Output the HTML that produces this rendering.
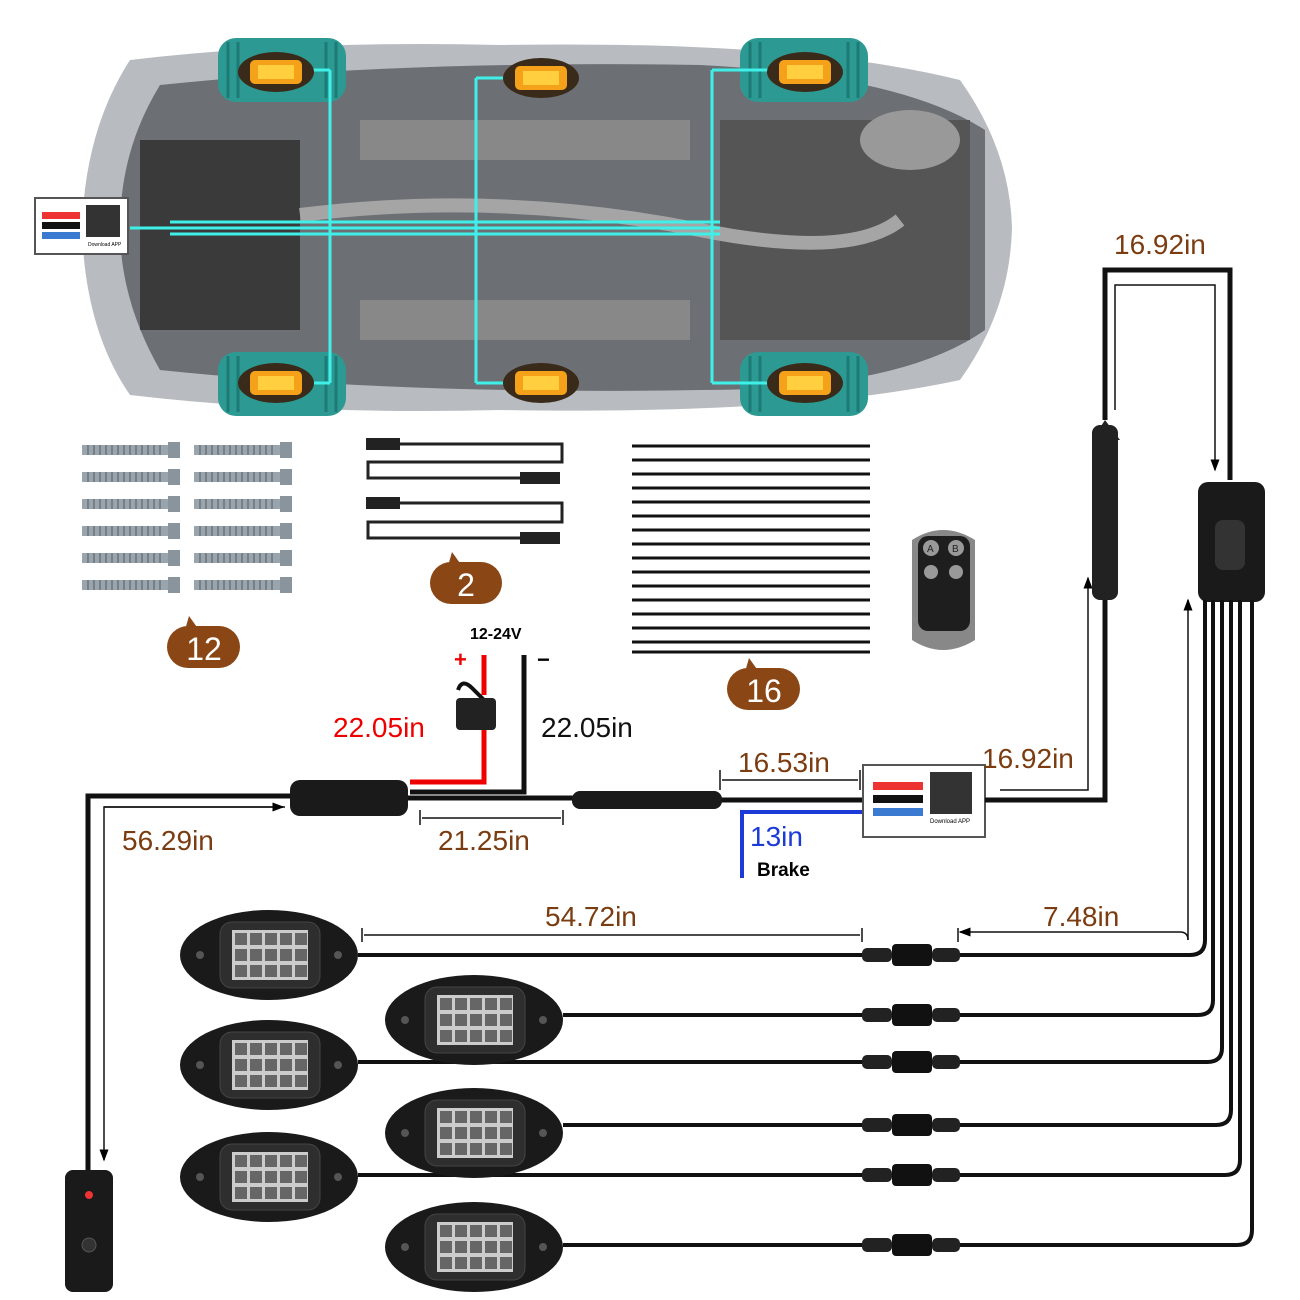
<!DOCTYPE html>
<html><head><meta charset="utf-8"><style>
html,body{margin:0;padding:0;background:#fff;}
svg{display:block}
text{font-family:"Liberation Sans",sans-serif}
</style></head><body>
<svg width="1300" height="1300" viewBox="0 0 1300 1300" xmlns="http://www.w3.org/2000/svg">
<defs>
<marker id="ar" markerWidth="8" markerHeight="8" refX="7" refY="4" orient="auto"><path d="M0,1 L8,4 L0,7 z" fill="#000"/></marker>
<g id="light">
<ellipse cx="89" cy="45" rx="89" ry="45" fill="#1a1a1a"/>
<rect x="40" y="12" width="100" height="66" rx="12" fill="#2e2e2e" stroke="#444"/>
<rect x="52" y="20" width="76" height="50" fill="#ccc"/>
<g fill="#666"><rect x="55" y="23" width="12" height="12"/><rect x="70" y="23" width="12" height="12"/><rect x="85" y="23" width="12" height="12"/><rect x="100" y="23" width="12" height="12"/><rect x="115" y="23" width="12" height="12"/>
<rect x="55" y="39" width="12" height="12"/><rect x="70" y="39" width="12" height="12"/><rect x="85" y="39" width="12" height="12"/><rect x="100" y="39" width="12" height="12"/><rect x="115" y="39" width="12" height="12"/>
<rect x="55" y="55" width="12" height="12"/><rect x="70" y="55" width="12" height="12"/><rect x="85" y="55" width="12" height="12"/><rect x="100" y="55" width="12" height="12"/><rect x="115" y="55" width="12" height="12"/></g>
<circle cx="20" cy="45" r="4" fill="#555"/><circle cx="158" cy="45" r="4" fill="#555"/>
</g>
<g id="conn"><rect x="0" y="-7" width="30" height="14" rx="5" fill="#222"/><rect x="30" y="-11" width="40" height="22" rx="4" fill="#111"/><rect x="70" y="-7" width="28" height="14" rx="5" fill="#222"/></g>
<g id="bolt"><rect x="0" y="-5" width="86" height="10" fill="#9aa4ac"/><g stroke="#6a747c" stroke-width="1.5"><path d="M6,-5v10M12,-5v10M18,-5v10M24,-5v10M30,-5v10M36,-5v10M42,-5v10M48,-5v10M54,-5v10M60,-5v10M66,-5v10M72,-5v10M78,-5v10"/></g><rect x="86" y="-8" width="12" height="16" fill="#8a949c"/></g>
<g id="amber"><ellipse cx="0" cy="0" rx="38" ry="20" fill="#3a2a1a"/><rect x="-26" y="-12" width="52" height="24" rx="5" fill="#f5a21a"/><rect x="-18" y="-7" width="36" height="14" fill="#ffcf40"/></g>
<g id="tire"><rect x="0" y="0" width="128" height="64" rx="18" fill="#2c9a92"/><g stroke="#1d7a74" stroke-width="3"><path d="M10,4v56M20,4v56M108,4v56M118,4v56"/></g></g>
</defs>

<path d="M130,60 Q300,40 500,45 Q800,40 960,80 Q1010,150 1012,228 Q1010,310 960,380 Q800,415 500,410 Q300,415 130,395 Q85,330 82,228 Q85,130 130,60 z" fill="#b8bcc0"/>
<path d="M160,85 Q400,60 700,65 Q900,75 985,130 L985,330 Q900,390 700,390 Q400,395 160,370 Q120,300 120,228 Q120,150 160,85 z" fill="#6c6f73"/>
<rect x="140" y="140" width="160" height="190" fill="#3a3a3a"/>
<rect x="360" y="120" width="330" height="40" fill="#888"/>
<rect x="360" y="300" width="330" height="40" fill="#888"/>
<rect x="720" y="120" width="250" height="220" fill="#555"/>
<ellipse cx="910" cy="140" rx="50" ry="30" fill="#999"/>
<path d="M300,215 Q500,190 700,230 Q850,260 900,220" stroke="#a5a5a5" stroke-width="14" fill="none"/>
<use href="#tire" x="218" y="38"/><use href="#tire" x="740" y="38"/>
<use href="#tire" x="218" y="352"/><use href="#tire" x="740" y="352"/>
<g stroke="#3ff0e8" stroke-width="3" fill="none">
<path d="M130,228 H720"/><path d="M170,222 H720 M170,234 H720"/>
<path d="M330,70 V228 M330,228 V383 M330,70 H270 M330,383 H270"/>
<path d="M476,78 V383 M476,78 H505 M476,383 H505"/>
<path d="M712,70 V383 M712,70 H780 M712,383 H780"/>
</g>
<use href="#amber" x="276" y="72"/><use href="#amber" x="541" y="78"/><use href="#amber" x="805" y="72"/>
<use href="#amber" x="276" y="383"/><use href="#amber" x="541" y="383"/><use href="#amber" x="805" y="383"/>
<rect x="35" y="198" width="93" height="56" fill="#fff" stroke="#555" stroke-width="2"/>
<rect x="42" y="212" width="38" height="7" fill="#e33"/><rect x="42" y="222" width="38" height="7" fill="#111"/><rect x="42" y="232" width="38" height="7" fill="#3a7ad0"/>
<rect x="86" y="205" width="34" height="32" fill="#333"/><text x="88" y="246" font-size="5">Download APP</text>

<g><use href="#bolt" x="82" y="450"/><use href="#bolt" x="82" y="477"/><use href="#bolt" x="82" y="504"/><use href="#bolt" x="82" y="531"/><use href="#bolt" x="82" y="558"/><use href="#bolt" x="82" y="585"/>
<use href="#bolt" x="194" y="450"/><use href="#bolt" x="194" y="477"/><use href="#bolt" x="194" y="504"/><use href="#bolt" x="194" y="531"/><use href="#bolt" x="194" y="558"/><use href="#bolt" x="194" y="585"/></g>

<g stroke="#222" stroke-width="3" fill="none">
<path d="M400,444 H562 V462 H368 V478 H520"/><path d="M400,503 H562 V522 H368 V538 H520"/></g>
<g fill="#222"><rect x="366" y="438" width="34" height="12"/><rect x="520" y="472" width="40" height="12"/><rect x="366" y="497" width="34" height="12"/><rect x="520" y="532" width="40" height="12"/></g>

<g stroke="#111" stroke-width="3">
<path d="M632,446H870M632,460H870M632,474H870M632,488H870M632,502H870M632,516H870M632,530H870M632,544H870M632,558H870M632,572H870M632,586H870M632,600H870M632,614H870M632,628H870M632,642H870M632,652H870"/></g>

<path d="M912,540 Q943,520 975,540 L975,640 Q943,660 912,640 z" fill="#888"/>
<rect x="918" y="536" width="52" height="95" rx="10" fill="#1e1e1e"/>
<circle cx="931" cy="548" r="8" fill="#999"/><circle cx="956" cy="548" r="8" fill="#999"/>
<circle cx="931" cy="572" r="7" fill="#999"/><circle cx="956" cy="572" r="7" fill="#999"/>
<text x="927" y="552" font-size="10" fill="#222">A</text><text x="952" y="552" font-size="10" fill="#222">B</text>

<g fill="#8a4614">
<rect x="430" y="562" width="72" height="42" rx="21"/><path d="M448,566 L452,552 L462,566z"/>
<rect x="167" y="626" width="73" height="42" rx="21"/><path d="M185,630 L189,616 L199,630z"/>
<rect x="727" y="668" width="73" height="42" rx="21"/><path d="M745,672 L749,658 L759,672z"/>
</g>
<g fill="#fff" font-size="32" text-anchor="middle"><text x="466" y="596">2</text><text x="204" y="660">12</text><text x="764" y="702">16</text></g>

<text x="470" y="639" font-size="16" font-weight="bold">12-24V</text>
<text x="454" y="667" font-size="22" font-weight="bold" fill="#e00">+</text>
<text x="537" y="667" font-size="22" font-weight="bold">−</text>
<path d="M484,655 V695 M484,730 V782 H410" stroke="#e00" stroke-width="5" fill="none"/>
<path d="M524,655 V792 H410" stroke="#111" stroke-width="5" fill="none"/>
<path d="M458,690 Q462,678 472,688 L484,700" stroke="#111" stroke-width="4" fill="none"/>
<rect x="456" y="698" width="40" height="32" rx="4" fill="#222"/>

<text x="333" y="737" font-size="28" fill="#e00">22.05in</text>
<text x="541" y="737" font-size="28" fill="#111">22.05in</text>

<path d="M290,796 H88 V1170" stroke="#111" stroke-width="5" fill="none"/>
<path d="M408,798 H575 M720,800 H865" stroke="#111" stroke-width="5"/>
<rect x="290" y="780" width="118" height="36" rx="10" fill="#1a1a1a"/>
<rect x="572" y="791" width="150" height="18" rx="8" fill="#1a1a1a"/>
<path d="M285,807 H104 V1160" stroke="#111" stroke-width="1.5" fill="none" marker-end="url(#ar)"/>
<path d="M104,807 H283" stroke="#111" stroke-width="1.5" marker-end="url(#ar)"/>
<text x="122" y="850" font-size="28" fill="#7a3c10">56.29in</text>
<path d="M420,810 V825 M563,810 V825 M422,818 H561" stroke="#111" stroke-width="1.5"/>
<text x="438" y="850" font-size="28" fill="#7a3c10">21.25in</text>
<path d="M720,770 V790 M860,770 V790 M722,780 H858" stroke="#111" stroke-width="1.5"/>
<text x="738" y="772" font-size="28" fill="#7a3c10">16.53in</text>
<path d="M865,812 H742 V878" stroke="#1b3ad8" stroke-width="4" fill="none"/>
<text x="750" y="846" font-size="28" fill="#1b3ad8">13in</text>
<text x="757" y="876" font-size="19" font-weight="bold">Brake</text>

<rect x="65" y="1170" width="48" height="122" rx="8" fill="#1a1a1a"/>
<circle cx="89" cy="1195" r="4" fill="#e33"/><circle cx="89" cy="1245" r="7" fill="#333" stroke="#555"/>

<rect x="863" y="765" width="122" height="72" fill="#fff" stroke="#555" stroke-width="2"/>
<rect x="873" y="782" width="50" height="8" fill="#e33"/><rect x="873" y="795" width="50" height="8" fill="#111"/><rect x="873" y="808" width="50" height="8" fill="#3a7ad0"/>
<rect x="930" y="772" width="42" height="42" fill="#333"/>
<text x="930" y="823" font-size="6">Download APP</text>
<text x="982" y="768" font-size="28" fill="#7a3c10">16.92in</text>

<path d="M985,800 H1105 V600 M1105,420 V270 H1230 V480" stroke="#111" stroke-width="5" fill="none"/>
<path d="M1000,790 H1088 V578" stroke="#111" stroke-width="1.5" fill="none" marker-end="url(#ar)"/>
<path d="M1115,410 V285 H1215 V470" stroke="#111" stroke-width="1.5" fill="none" marker-end="url(#ar)"/>
<path d="M1105,420 L1092,440 H1120 Z" fill="#222"/>
<rect x="1092" y="425" width="26" height="175" rx="8" fill="#222"/>
<text x="1114" y="254" font-size="28" fill="#7a3c10">16.92in</text>
<rect x="1198" y="482" width="67" height="120" rx="10" fill="#1a1a1a"/>
<rect x="1215" y="520" width="30" height="50" rx="8" fill="#333"/>

<g stroke="#111" stroke-width="4" fill="none">
<path d="M1205,600 V940 Q1205,955 1190,955 H358"/>
<path d="M1213,600 V1000 Q1213,1015 1198,1015 H563"/>
<path d="M1222,600 V1048 Q1222,1062 1207,1062 H358"/>
<path d="M1231,600 V1110 Q1231,1125 1216,1125 H563"/>
<path d="M1240,600 V1160 Q1240,1175 1225,1175 H358"/>
<path d="M1252,600 V1230 Q1252,1245 1237,1245 H563"/>
</g>
<path d="M1188,940 Q1188,932 1180,932 H960" stroke="#111" stroke-width="1.5" fill="none" marker-end="url(#ar)"/>
<path d="M1188,940 V600" stroke="#111" stroke-width="1.5" marker-end="url(#ar)"/>
<path d="M958,928 V942 M862,928 V942 M362,928 V942 M364,935 H860" stroke="#111" stroke-width="1.5"/>
<text x="545" y="926" font-size="28" fill="#7a3c10">54.72in</text>
<text x="1043" y="926" font-size="28" fill="#7a3c10">7.48in</text>

<use href="#conn" x="862" y="955"/><use href="#conn" x="862" y="1015"/><use href="#conn" x="862" y="1062"/>
<use href="#conn" x="862" y="1125"/><use href="#conn" x="862" y="1175"/><use href="#conn" x="862" y="1245"/>

<use href="#light" x="180" y="910"/><use href="#light" x="385" y="975"/><use href="#light" x="180" y="1020"/>
<use href="#light" x="385" y="1088"/><use href="#light" x="180" y="1132"/><use href="#light" x="385" y="1202"/>
</svg>
</body></html>
